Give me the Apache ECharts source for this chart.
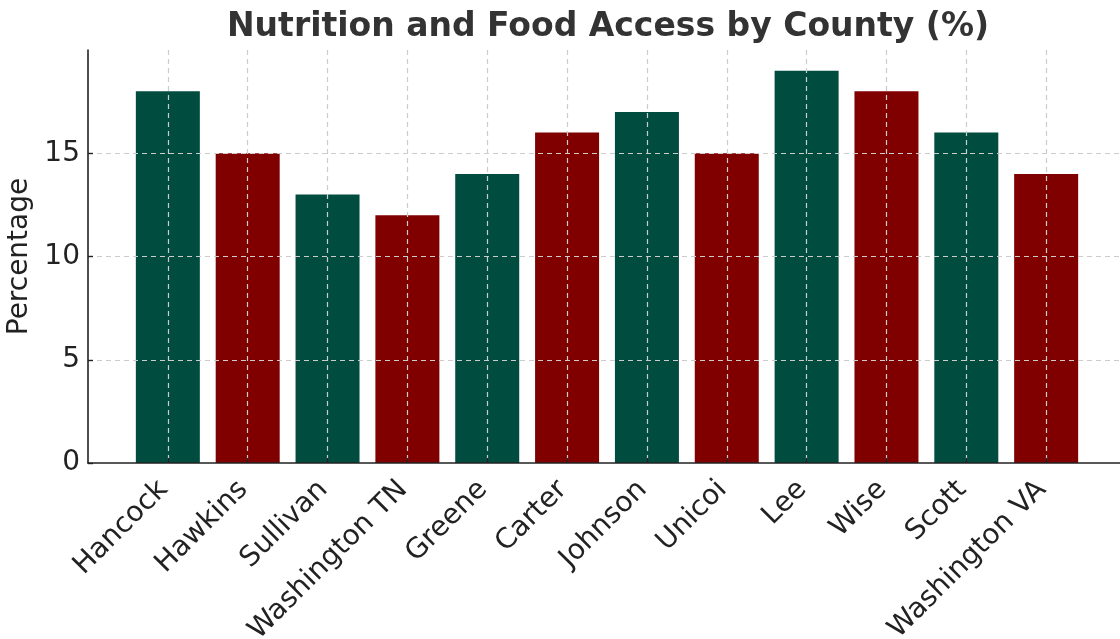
<!DOCTYPE html>
<html>
<head>
<meta charset="utf-8">
<script src="https://cdn.jsdelivr.net/npm/echarts@6/dist/echarts.min.js"></script>
<style>
  html, body { margin: 0; padding: 0; background: #fff; }
  #chart { width: 1120px; height: 639px; }
</style>
</head>
<body>
<div id="chart"></div>
<script>
// county names, in bar order
const counties = ['Hancock', 'Hawkins', 'Sullivan', 'Washington TN', 'Greene', 'Carter',
    'Johnson', 'Unicoi', 'Lee', 'Wise', 'Scott', 'Washington VA'];
// percentage per county
const values = [18, 15, 13, 12, 14, 16, 17, 15, 19, 18, 16, 14];
const yTicks = [0, 5, 10, 15];
const barColors = ['#004d40', '#800000'];

const chart = echarts.init(document.getElementById('chart'));
const font = 'DejaVu Sans';
const positions = counties.map((c, i) => i);

const option = {
    animation: false,
    textStyle: { fontFamily: font },
    title: {
        text: 'Nutrition and Food Access by County (%)',
        left: 222,
        top: 6,
        textStyle: { fontFamily: font, fontSize: 33, fontWeight: 'bold', color: '#333' },
    },
    grid: { left: 88, right: -6, top: 50, bottom: 176, outerBoundsMode: 'none' },
    xAxis: {
        type: 'value',
        min: -1,
        max: 12,
        interval: 1,
        z: 5,
        axisLine: { lineStyle: { color: '#222', width: 1.6 } },
        axisTick: { customValues: positions, inside: true, length: 5, lineStyle: { color: '#222', width: 1.4 } },
        axisLabel: {
            customValues: positions,
            rotate: 45,
            margin: 18,
            padding: [0, 6, 0, 0],
            fontSize: 28,
            color: '#222',
            fontFamily: font,
            formatter: v => counties[Math.round(v)] || '',
        },
        splitLine: {
            lineStyle: { color: '#cccccc', type: [5, 4], width: 1.2 },
        },
    },
    yAxis: {
        type: 'value',
        min: 0,
        max: 20,
        interval: 5,
        z: 5,
        name: 'Percentage',
        nameLocation: 'middle',
        nameGap: 52,
        nameTextStyle: { fontSize: 28, color: '#222', fontFamily: font },
        axisLine: { show: true, onZero: false, lineStyle: { color: '#222', width: 1.6 } },
        axisTick: { show: true, customValues: yTicks, inside: true, length: 5, lineStyle: { color: '#222', width: 1.4 } },
        axisLabel: { customValues: yTicks, fontSize: 28, color: '#222', margin: 8, fontFamily: font },
        splitLine: {
            showMinLine: false,
            lineStyle: { color: '#cccccc', type: [5, 4], width: 1.2 },
        },
    },
    series: [{
        type: 'bar',
        barWidth: 64,
        data: values.map((v, i) => ({
            value: [i, v],
            itemStyle: { color: barColors[i % 2] },
        })),
    }],
};

chart.setOption(option);
</script>
</body>
</html>
